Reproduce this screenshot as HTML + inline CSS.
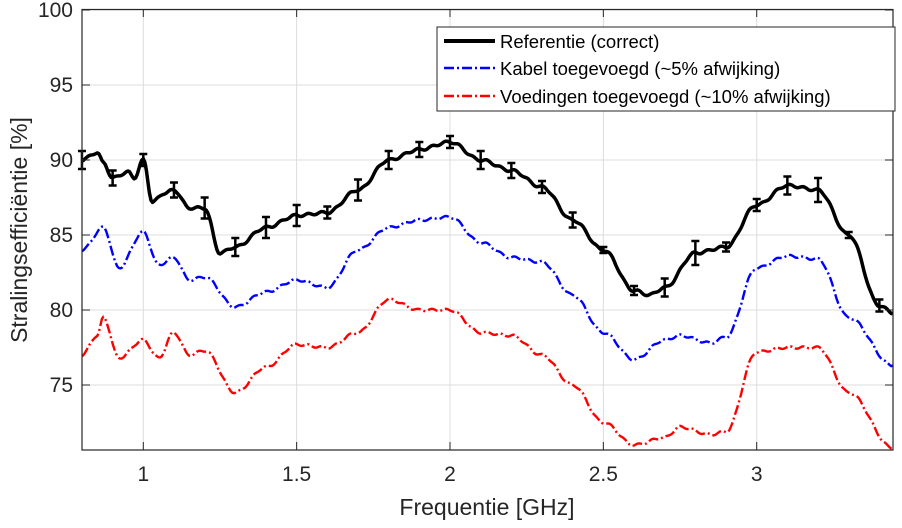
<!DOCTYPE html><html><head><style>body{margin:0;background:#fff}svg{font-family:"Liberation Sans",sans-serif}</style></head><body>
<svg id="s" width="902" height="523" xmlns="http://www.w3.org/2000/svg">
<rect x="0" y="0" width="902" height="523" fill="#fff"/>
<g id="grid" stroke="#dcdcdc" stroke-width="1"></g>
<g id="series"></g>
<rect x="82" y="9.5" width="811" height="440.5" fill="none" stroke="#262626" stroke-width="1.2"/>
<g id="ticks" stroke="#262626" stroke-width="1"></g>
<g id="labels" font-size="21" fill="#262626"></g>
<text x="487" y="515" font-size="23" fill="#262626" text-anchor="middle">Frequentie [GHz]</text>
<text transform="translate(27,230) rotate(-90)" font-size="23" fill="#262626" text-anchor="middle">Stralingsefficiëntie [%]</text>
<g>
<rect x="437" y="27" width="458" height="84" fill="#fff" stroke="#262626" stroke-width="1"/>
<line x1="444" y1="41" x2="495" y2="41" stroke="#000" stroke-width="4"/>
<line x1="444" y1="68" x2="495" y2="68" stroke="#0000ff" stroke-width="2.5" stroke-dasharray="10,3,2,3"/>
<line x1="444" y1="96" x2="495" y2="96" stroke="#ff0000" stroke-width="2.5" stroke-dasharray="10,3,2,3"/>
<text x="500" y="48" font-size="18.5" fill="#000">Referentie (correct)</text>
<text x="500" y="75" font-size="18.5" fill="#000">Kabel toegevoegd (~5% afwijking)</text>
<text x="500" y="103" font-size="18.5" fill="#000">Voedingen toegevoegd (~10% afwijking)</text>
</g>
</svg>
<script>
const X=f=>143.3+(f-1)*306.7, Y=v=>10+(100-v)*15;
const ns="http://www.w3.org/2000/svg";
function el(p,t,a){const e=document.createElementNS(ns,t);for(const k in a)e.setAttribute(k,a[k]);document.getElementById(p).appendChild(e);return e;}
[1,1.5,2,2.5,3].forEach(f=>{el("grid","line",{x1:X(f),x2:X(f),y1:9.5,y2:450});el("ticks","line",{x1:X(f),x2:X(f),y1:450,y2:442});el("ticks","line",{x1:X(f),x2:X(f),y1:9.5,y2:17});
 const t=el("labels","text",{x:X(f),y:481,"text-anchor":"middle"});t.textContent=String(f);});
[75,80,85,90,95,100].forEach(v=>{el("grid","line",{x1:82,x2:893,y1:Y(v),y2:Y(v)});el("ticks","line",{x1:82,x2:90,y1:Y(v),y2:Y(v)});el("ticks","line",{x1:885,x2:893,y1:Y(v),y2:Y(v)});
 const t=el("labels","text",{x:73,y:Y(v)+7,"text-anchor":"end"});t.textContent=String(v);});
function interp(pts){const o=[];for(let i=0;i<pts.length-1;i++){const[a,b]=pts[i],[c,d]=pts[i+1];const n=Math.max(2,Math.round((c-a)*200));for(let j=0;j<n;j++){const t=j/n,s=(1-Math.cos(Math.PI*t))/2;o.push([a+(c-a)*t,b+(d-b)*s+0.08*Math.sin((a+(c-a)*t)*140)]);}}o.push(pts[pts.length-1]);return o;}
function path(pts,col,w,dash){const p=interp(pts).map((q,i)=>(i?"L":"M")+X(q[0]).toFixed(1)+","+Y(q[1]).toFixed(1)).join("");const a={d:p,fill:"none",stroke:col,"stroke-width":w,"stroke-linejoin":"round"};if(dash)a["stroke-dasharray"]=dash;el("series","path",a);}
const blk=[[0.8,90],[0.85,90.5],[0.87,89.8],[0.9,88.8],[0.95,89.2],[0.97,88.8],[1.0,90],[1.03,87.2],[1.07,87.8],[1.1,88],[1.15,86.8],[1.2,86.8],[1.25,83.8],[1.3,84.2],[1.4,85.5],[1.5,86.3],[1.6,86.5],[1.7,88],[1.8,90],[1.9,90.7],[2.0,91.2],[2.1,90],[2.2,89.3],[2.3,88.2],[2.4,86],[2.5,84],[2.6,81.3],[2.65,81],[2.7,81.5],[2.8,83.8],[2.9,84.2],[3.0,87],[3.1,88.3],[3.2,88],[3.3,85],[3.4,80.3],[3.444,79.8]];
const blu=[[0.8,84],[0.87,85.5],[0.92,82.8],[1.0,85.2],[1.05,83],[1.1,83.5],[1.15,82],[1.2,82.2],[1.3,80.2],[1.4,81.2],[1.5,82],[1.6,81.5],[1.7,84],[1.8,85.5],[1.9,86],[2.0,86.2],[2.1,84.5],[2.2,83.5],[2.3,83.2],[2.4,81],[2.5,78.5],[2.6,76.7],[2.7,78],[2.75,78.3],[2.85,77.8],[2.9,78.2],[3.0,82.8],[3.1,83.6],[3.2,83.4],[3.3,79.5],[3.444,76.3]];
const red=[[0.8,77],[0.85,78.3],[0.87,79.5],[0.92,76.8],[1.0,78],[1.05,76.8],[1.1,78.5],[1.15,77],[1.2,77.3],[1.3,74.5],[1.4,76.2],[1.5,77.7],[1.6,77.5],[1.7,78.5],[1.8,80.7],[1.9,80],[2.0,80],[2.1,78.5],[2.2,78.3],[2.3,77],[2.4,75],[2.5,72.5],[2.6,71],[2.7,71.5],[2.75,72.2],[2.85,71.7],[2.9,71.9],[3.0,77.2],[3.1,77.5],[3.2,77.5],[3.3,74.5],[3.444,70.8]];
path(red,"#ff0000",2.4,"10,3,2,3");path(blu,"#0000ff",2.4,"10,3,2,3");path(blk,"#000",3.5);
const eb=[.6,.5,.4,.5,.7,.6,.7,.7,.4,.7,.6,.5,.4,.6,.5,.4,.5,.2,.3,.6,.8,.3,.4,.6,.8,.2,.4,.5,.7,.5];
for(let i=0;i<=26;i++){const f=0.8+i*0.1;let v=null;for(let k=0;k<blk.length-1;k++)if(f>=blk[k][0]-1e-9&&f<=blk[k+1][0]){const t=(f-blk[k][0])/(blk[k+1][0]-blk[k][0]);v=blk[k][1]+(blk[k+1][1]-blk[k][1])*(1-Math.cos(Math.PI*t))/2;break;}
 if(v==null)continue;const e=eb[i%eb.length],x=X(f);el("series","path",{d:`M${x},${Y(v+e)}V${Y(v-e)}M${x-4},${Y(v+e)}h8M${x-4},${Y(v-e)}h8`,stroke:"#000","stroke-width":2.5,fill:"none"});}
</script>
</body></html>
